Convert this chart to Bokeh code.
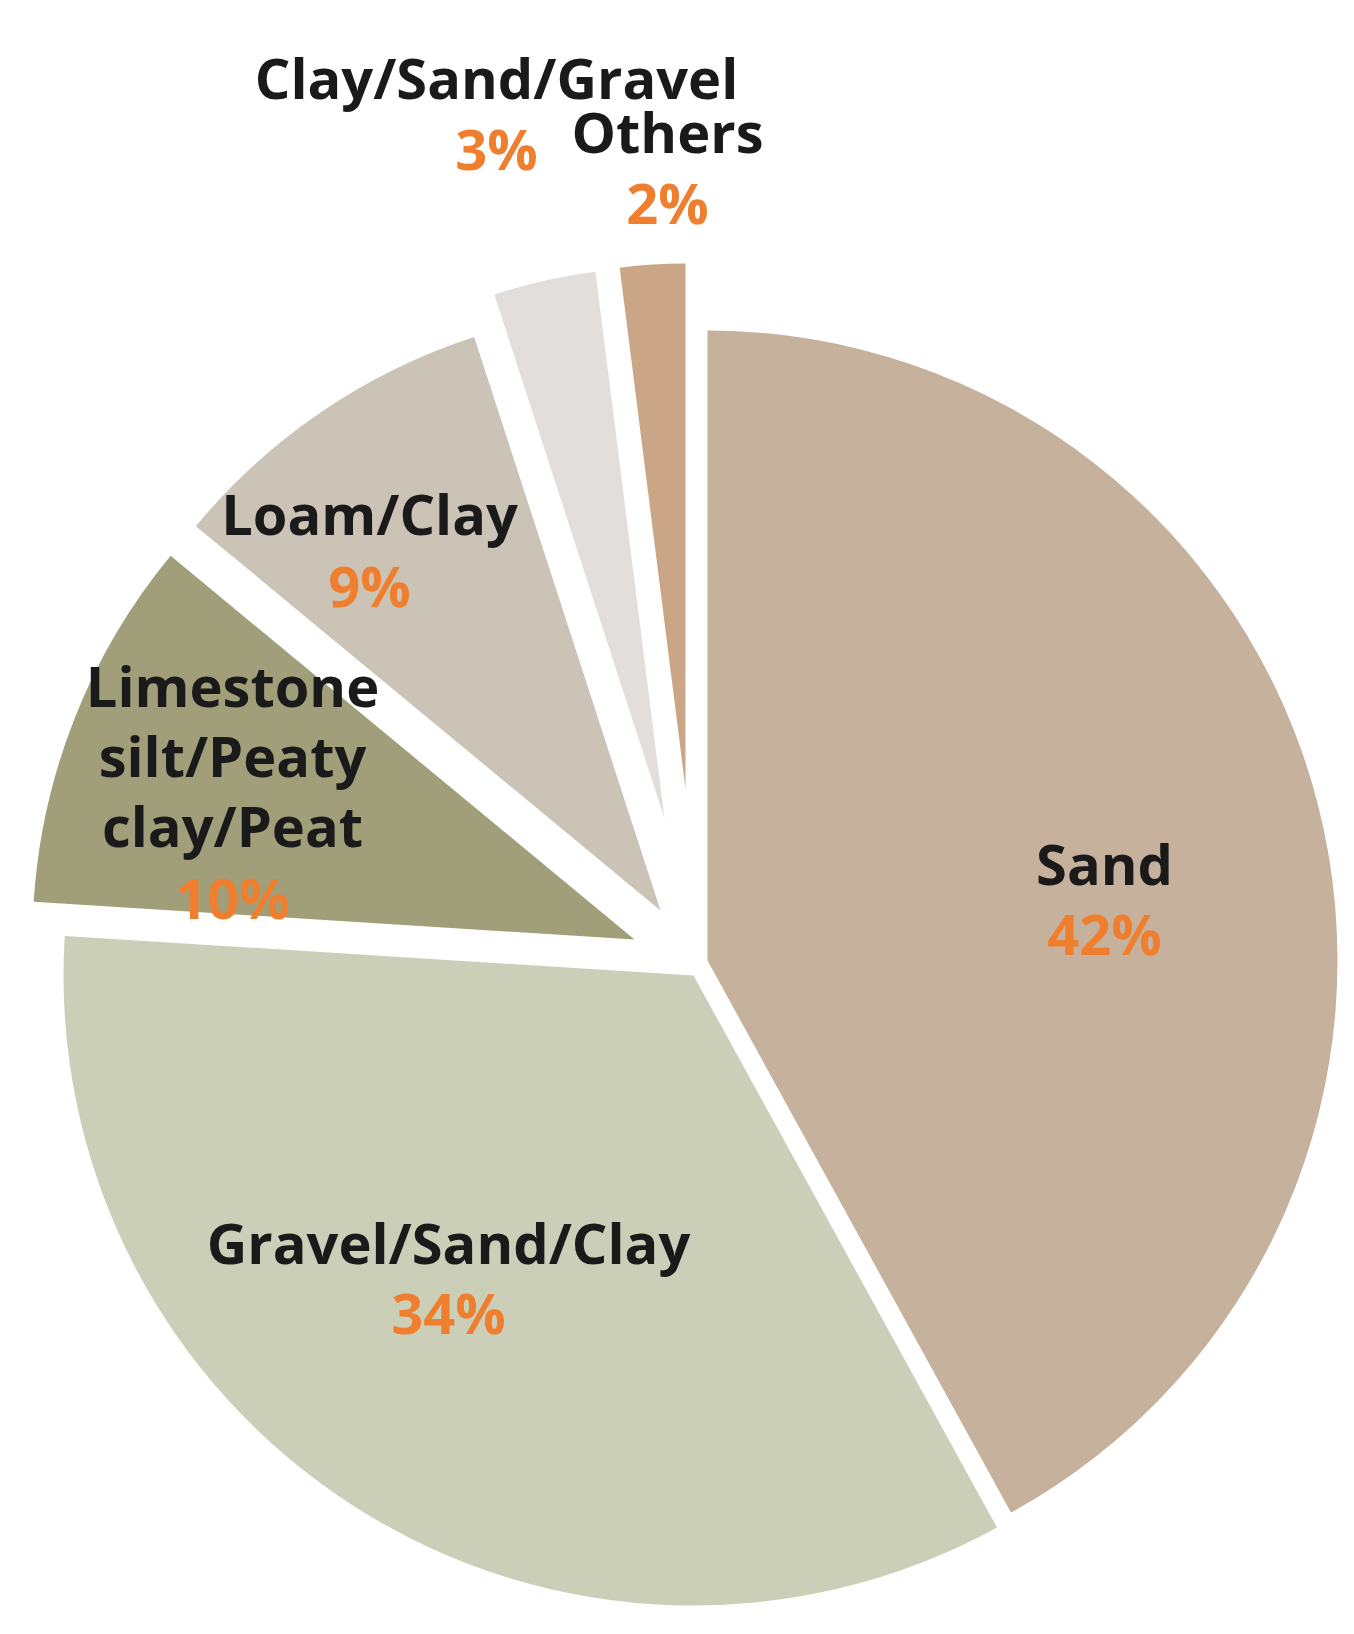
import math
from bokeh.plotting import figure
from bokeh.models import Range1d, ColumnDataSource
from bokeh.core.properties import value
from bokeh.embed import file_html
from bokeh.resources import INLINE

# ---- data ----
categories = ["Sand", "Gravel/Sand/Clay", "Limestone silt/Peaty clay/Peat",
              "Loam/Clay", "Clay/Sand/Gravel", "Others"]
shares = [42, 34, 10, 9, 3, 2]
pct_labels = ["42%", "34%", "10%", "9%", "3%", "2%"]
label_lines = [["Sand"], ["Gravel/Sand/Clay"], ["Limestone", "silt/Peaty", "clay/Peat"],
               ["Loam/Clay"], ["Clay/Sand/Gravel"], ["Others"]]

# ---- layout / style (page pixel coordinates) ----
colors = ["#c6b19d", "#cccfb7", "#a19e7a", "#cbc4b6", "#e2dedb", "#caa686"]
apex_x = [707, 693, 634, 660, 664, 685]
apex_y = [960, 975, 939, 910, 818, 788]
radii = [630, 630, 602, 603, 551, 525]
label_x = [1104, 448, 232, 369, 496, 667]
label_base = [885, 1264, 707, 535, 99, 153]
pct_base = [955, 1334, 919, 607, 170, 224]
line_gap = 70
TEXT_DY = -23
FS = "56px"

W, H = 1338, 1618
OFF = 0  # page position of the figure's top-left corner


def fy(Y):
    return (H + OFF) - Y


p = figure(width=W, height=H, x_range=Range1d(OFF, OFF + W), y_range=Range1d(0, H),
           output_backend="svg", toolbar_location=None,
           x_axis_location=None, y_axis_location=None, min_border=0)
p.outline_line_color = None
p.xgrid.visible = False
p.ygrid.visible = False
p.background_fill_color = "white"

total = float(sum(shares))
cum = 0.0
starts, ends = [], []
for s in shares:
    t1 = cum / total * 360.0
    cum += s
    t2 = cum / total * 360.0
    # clockwise-from-top -> counterclockwise-from-east
    starts.append(math.radians(90.0 - t2))
    ends.append(math.radians(90.0 - t1))

src = ColumnDataSource(dict(x=apex_x, y=[fy(v) for v in apex_y], r=radii,
                            start=starts, end=ends, color=colors, cat=categories))
p.wedge(x="x", y="y", radius="r", start_angle="start", end_angle="end",
        fill_color="color", line_color=None, source=src)

tx, ty, tt = [], [], []
for i, lines in enumerate(label_lines):
    for j, ln in enumerate(lines):
        tx.append(label_x[i])
        ty.append(fy(label_base[i] + j * line_gap + TEXT_DY))
        tt.append(ln)
p.text(x=tx, y=ty, text=tt, text_font=value("Open Sans"), text_font_style="bold",
       text_font_size=FS, text_color="#1a1a1a", text_align="center",
       text_baseline="alphabetic")

p.text(x=label_x, y=[fy(v + TEXT_DY) for v in pct_base], text=pct_labels,
       text_font=value("Open Sans"), text_font_style="bold",
       text_font_size=FS, text_color="#ef7f2f", text_align="center",
       text_baseline="alphabetic")

open("out.html", "w").write(file_html(p, INLINE))
